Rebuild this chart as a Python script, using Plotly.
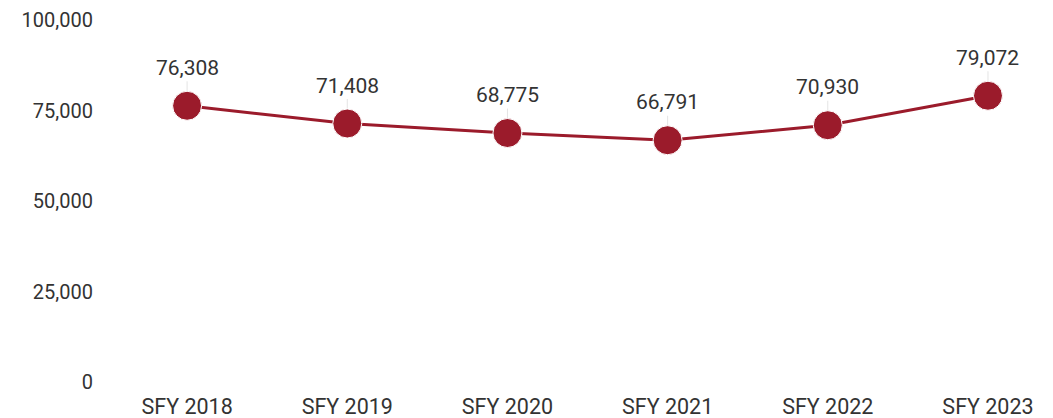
import plotly.graph_objects as go

years = ["SFY 2018", "SFY 2019", "SFY 2020", "SFY 2021", "SFY 2022", "SFY 2023"]
counts = [76308, 71408, 68775, 66791, 70930, 79072]
y_ticks = [0, 25000, 50000, 75000, 100000]

line_color = "#9B1B2B"
text_color = "#333333"

fig = go.Figure()
fig.add_trace(go.Scatter(
    x=years, y=counts, mode="lines+markers",
    line=dict(color=line_color, width=3),
    marker=dict(size=29, color=line_color, line=dict(color="white", width=1)),
    hoverinfo="skip",
))

for x, v in zip(years, counts):
    fig.add_annotation(
        x=x, y=v, text=f"{v:,}", showarrow=True, arrowhead=0,
        arrowcolor="#e4e4e4", arrowwidth=1, ax=0, ay=-38, standoff=15,
        font=dict(family="Roboto", size=21, color=text_color),
    )

fig.update_layout(
    width=1053, height=418,
    margin=dict(l=107, r=0, t=20, b=36),
    paper_bgcolor="white", plot_bgcolor="white",
    showlegend=False,
    font=dict(family="Roboto", size=20, color=text_color),
)
fig.update_xaxes(
    type="category", range=[-0.5, 5.406],
    showgrid=False, zeroline=False, showline=False, ticks="",
    ticklabelstandoff=9,
    tickfont=dict(size=21.5, color=text_color),
)
fig.update_yaxes(
    range=[0, 100000], tickvals=y_ticks,
    ticktext=[f"{t:,}" for t in y_ticks],
    showgrid=False, zeroline=False, showline=False, ticks="",
    ticklabelstandoff=13,
    tickfont=dict(size=20, color=text_color),
)

fig.write_html("out.html")
